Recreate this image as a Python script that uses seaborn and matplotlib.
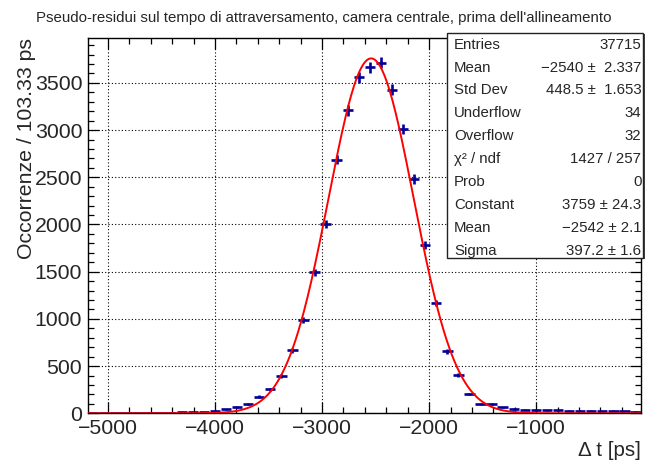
import numpy as np
import pandas as pd
import matplotlib
matplotlib.use("Agg")
import matplotlib.pyplot as plt
from matplotlib.patches import Rectangle
from matplotlib.ticker import MultipleLocator
import seaborn as sns

# ---------------- data ----------------
title = "Pseudo-residui sul tempo di attraversamento, camera centrale, prima dell'allineamento"
x_label = "\u0394 t [ps]"
y_label = "Occorrenze / 103.33 ps"

hist_low = -5188.33          # low edge of first displayed bin
bin_width = 103.333
counts = [3, 4, 3, 5, 4, 6, 6, 8, 9, 12,
          15, 25, 42, 67, 95, 176, 255, 393, 668, 986,
          1495, 2003, 2688, 3210, 3560, 3665, 3715, 3428, 3010, 2480,
          1780, 1168, 657, 409, 203, 103, 98, 62, 45, 38,
          35, 32, 30, 27, 29, 26, 24, 25, 21, 19]

fit_constant = 3759.0
fit_mean = -2542.0
fit_sigma = 397.2

stats_names = ["Entries", "Mean", "Std Dev", "Underflow", "Overflow",
               "\u03c7\u00b2 / ndf", "Prob", "Constant", "Mean", "Sigma"]
stats_values = ["37715", "\u22122540 \u00b1  2.337", "448.5 \u00b1  1.653", "34", "32",
                "1427 / 257", "0", "3759 \u00b1 24.3", "\u22122542 \u00b1 2.1", "397.2 \u00b1 1.6"]

x_range = (-5188.33, -21.67)
y_range = (0, 3972)

# ---------------- figure ----------------
sns.set_style("ticks")
plt.rcParams["font.family"] = ["Liberation Sans", "DejaVu Sans"]
plt.rcParams["axes.unicode_minus"] = True

W, H = 648, 463
fig = plt.figure(figsize=(W / 100, H / 100), dpi=100)
L, R, T, B = 87.7, 641.0, 38.3, 413.3
ax = fig.add_axes([L / W, 1 - B / H, (R - L) / W, (B - T) / H])

n = len(counts)
centers = hist_low + (np.arange(n) + 0.5) * bin_width
df = pd.DataFrame({"x": centers, "y": np.array(counts, float)})
df["err"] = np.sqrt(df["y"])

# fit curve
xf = np.linspace(x_range[0], x_range[1], 600)
fit_df = pd.DataFrame({"x": xf,
                       "y": fit_constant * np.exp(-0.5 * ((xf - fit_mean) / fit_sigma) ** 2)})

blue = "#000099"
ax.errorbar(df["x"], df["y"], xerr=bin_width * 0.47, yerr=df["err"], fmt="none",
            ecolor=blue, elinewidth=1.9, capsize=0, zorder=3)
sns.lineplot(data=fit_df, x="x", y="y", color="#ff0000", linewidth=1.4, ax=ax,
             zorder=4, legend=False)

ax.set_xlim(*x_range)
ax.set_ylim(*y_range)

ax.xaxis.set_major_locator(MultipleLocator(1000))
ax.xaxis.set_minor_locator(MultipleLocator(200))
ax.yaxis.set_major_locator(MultipleLocator(500))
ax.yaxis.set_minor_locator(MultipleLocator(100))

ax.grid(True, which="major", color="black", linestyle=(0, (1, 2)), linewidth=0.8)
ax.tick_params(which="both", direction="in", top=True, right=True, color="black",
               labelsize=15.3, width=0.9)
ax.tick_params(which="major", length=8, pad=4)
ax.tick_params(which="minor", length=4.5)
for s in ax.spines.values():
    s.set_color("black")
    s.set_linewidth(1.0)

ax.set_xlabel(x_label, fontsize=14.8, loc="right")
ax.xaxis.set_label_coords(1.0, -0.074)
ax.xaxis.label.set_va("top")
ax.set_ylabel(y_label, fontsize=15.3, loc="top")
ax.yaxis.set_label_coords(-0.093, 1.0)

fig.text(0.5, 1 - 18 / H, title, ha="center", va="center", fontsize=10.8)

# stats box
bx0, by0, bx1, by1 = 446.7, 32.7, 643.3, 258.0
fig.patches.append(Rectangle((bx0 / W + 1.2 / W, 1 - by1 / H - 1.2 / H), (bx1 - bx0) / W, (by1 - by0) / H,
                             transform=fig.transFigure, facecolor="#444444", edgecolor="none", zorder=9))
fig.patches.append(Rectangle((bx0 / W, 1 - by1 / H), (bx1 - bx0) / W, (by1 - by0) / H,
                             transform=fig.transFigure, facecolor="white", edgecolor="#222222",
                             linewidth=1.0, zorder=10))
row0, step = 44.7, 22.9
for i, (nm, val) in enumerate(zip(stats_names, stats_values)):
    yy = 1 - (row0 + i * step) / H
    fig.text(454 / W, yy, nm, ha="left", va="center", fontsize=10.8, zorder=11)
    fig.text(641.5 / W, yy, val, ha="right", va="center", fontsize=10.8, zorder=11)

fig.savefig("out.png", dpi=100)
